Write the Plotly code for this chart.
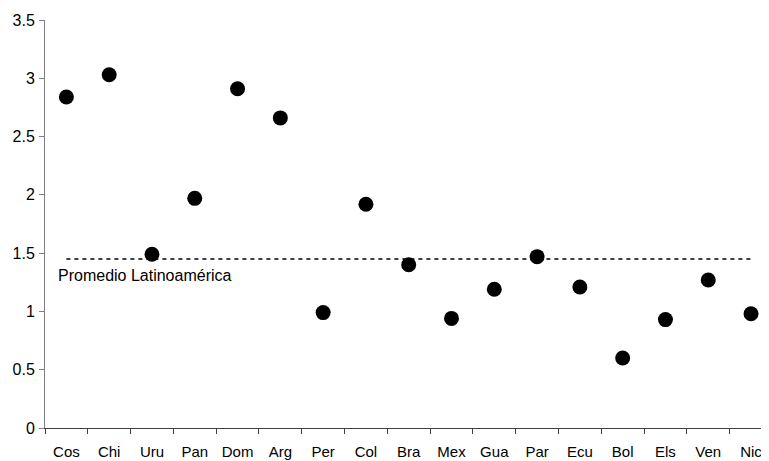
import plotly.graph_objects as go

countries = ["Cos", "Chi", "Uru", "Pan", "Dom", "Arg", "Per", "Col", "Bra",
             "Mex", "Gua", "Par", "Ecu", "Bol", "Els", "Ven", "Nic"]
values = [2.84, 3.03, 1.49, 1.97, 2.91, 2.66, 0.99, 1.92, 1.40,
          0.94, 1.19, 1.47, 1.21, 0.60, 0.93, 1.27, 0.98]
avg_value = 1.45
avg_label = "Promedio Latinoamérica"
y_ticks = [0, 0.5, 1, 1.5, 2, 2.5, 3, 3.5]
y_tick_text = ["0", "0.5", "1", "1.5", "2", "2.5", "3", "3.5"]

FONT = "Liberation Sans, Arial, sans-serif"

fig = go.Figure()
fig.add_trace(go.Scatter(
    x=[countries[0], countries[-1]], y=[avg_value, avg_value],
    mode="lines", line=dict(color="black", width=1.5, dash="4px,4px"),
    hoverinfo="skip", showlegend=False))
fig.add_trace(go.Scatter(
    x=countries, y=values, mode="markers",
    marker=dict(color="black", size=15, line=dict(width=0)),
    showlegend=False))

fig.add_annotation(
    x=(56 - 45) / 724, xref="paper", xanchor="left",
    y=1.31, yref="y", yanchor="middle",
    text=avg_label, showarrow=False,
    font=dict(family=FONT, size=16, color="black"))

fig.update_layout(
    width=761, height=453,
    margin=dict(l=37, r=0, t=12, b=33, autoexpand=False),
    plot_bgcolor="white", paper_bgcolor="white",
    font=dict(family=FONT, size=15, color="black"),
    xaxis=dict(type="category", categoryorder="array", categoryarray=countries,
               range=[-0.5, 16.42], showgrid=False, zeroline=False,
               showline=True, linecolor="#404040", linewidth=1,
               ticks="outside", tickson="boundaries", ticklen=5,
               tickcolor="#404040", tickfont=dict(family=FONT, size=15),
               ticklabelstandoff=10, automargin=False),
    yaxis=dict(range=[0, 3.5], tickvals=y_ticks, ticktext=y_tick_text,
               showgrid=False, zeroline=False, showline=True,
               linecolor="#808080", linewidth=1, ticks="outside", ticklen=5,
               tickcolor="#808080", tickfont=dict(family=FONT, size=16),
               ticklabelstandoff=1, automargin=False),
)

fig.write_html("out.html")
